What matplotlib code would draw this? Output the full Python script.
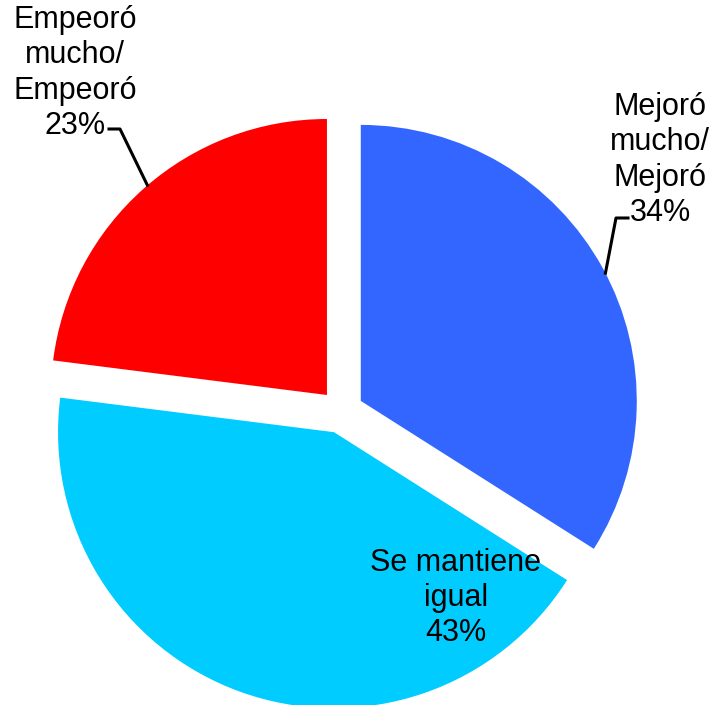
import numpy as np
import matplotlib.pyplot as plt

# Data
labels = ['Mejoró\nmucho/\nMejoró\n34%', 'Se mantiene\nigual\n43%', 'Empeoró\nmucho/\nEmpeoró\n23%']
values = [34, 43, 23]
colors = ['#3366FF', '#00CCFF', '#FF0000']

plt.rcParams['font.family'] = ['Liberation Sans', 'DejaVu Sans']

W, H = 713, 705
fig = plt.figure(figsize=(W / 100, H / 100), dpi=100)
ax = fig.add_axes([0, 0, 1, 1])

# pie in pixel-like coordinates (y measured from the bottom)
center = (341.5, H - 411.5)
radius = 276
gap = 22  # explode offset, same units as radius
wedges, _ = ax.pie(values, colors=colors, startangle=90, counterclock=False,
                   explode=[gap] * 3, center=center, radius=radius,
                   wedgeprops=dict(linewidth=0))
ax.set_xlim(0, W)
ax.set_ylim(0, H)
ax.set_aspect('auto')
ax.axis('off')


def arc_point(w, frac=0.5):
    ang = np.deg2rad(w.theta1 + (w.theta2 - w.theta1) * frac)
    cx, cy = w.center
    return cx + w.r * np.cos(ang), cy + w.r * np.sin(ang)


fs = 22
ls = 1.22
# Mejoró label with leader
ax.text(660, H - 160, labels[0], ha='center', va='center', fontsize=fs, linespacing=ls)
px, py = arc_point(wedges[0], 0.49)
ax.plot([px, 616, 628], [py, H - 218, H - 218], color='black', lw=2.2)

# Se mantiene igual, inside slice
ax.text(456, H - 598, labels[1], ha='center', va='center', fontsize=fs, linespacing=ls)

# Empeoró label with leader
ax.text(75, H - 73, labels[2], ha='center', va='center', fontsize=fs, linespacing=ls)
px, py = arc_point(wedges[2], 0.49)
ax.plot([px, 120, 109], [py, H - 129, H - 129], color='black', lw=2.2)

fig.savefig('out.png', dpi=100)
